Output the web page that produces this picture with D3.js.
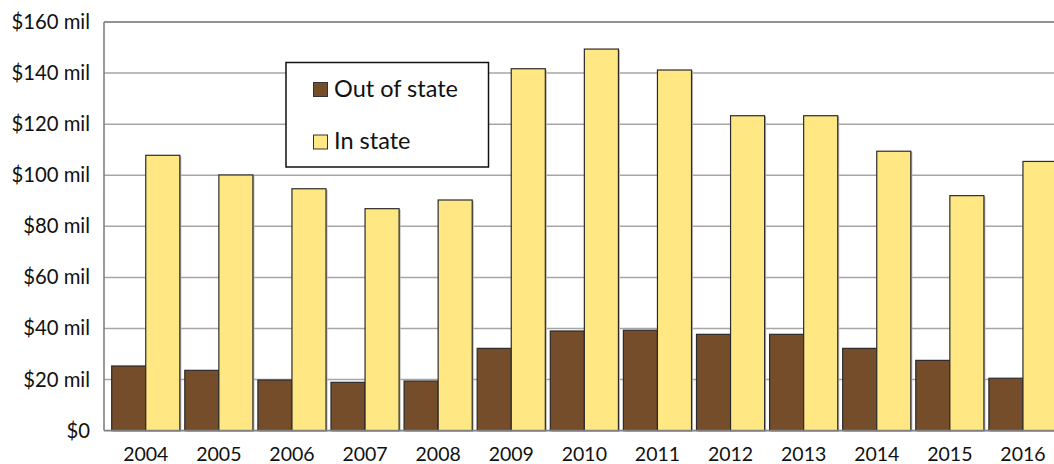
<!DOCTYPE html>
<html>
<head>
<meta charset="utf-8">
<script src="https://cdn.jsdelivr.net/npm/d3@7"></script>
<style>
  html, body { margin: 0; padding: 0; background: #fff; }
  svg { display: block; font-family: Lato, "Open Sans", sans-serif; }
</style>
</head>
<body>
<svg id="chart" width="1054" height="464"></svg>
<script>
// Tourism spending by origin, millions of dollars
const years = ["2004","2005","2006","2007","2008","2009","2010","2011","2012","2013","2014","2015","2016"];
const outOfState = [25.3, 23.6, 19.8, 18.9, 19.4, 32.2, 39.0, 39.3, 37.7, 37.7, 32.2, 27.5, 20.5];
const inState    = [107.8, 100.1, 94.7, 86.9, 90.3, 141.7, 149.4, 141.2, 123.3, 123.3, 109.4, 92.0, 105.4];
const seriesNames = ["Out of state", "In state"];
const seriesColors = ["#764d2a", "#ffe884"];
const yTicks = [0, 20, 40, 60, 80, 100, 120, 140, 160];

const svg = d3.select("#chart");
const axisX = 104, plotRight = 1054;
const plotTop = 22, plotBottom = 430.6;

const y = d3.scaleLinear().domain([0, 160]).range([plotBottom, plotTop]);
const x0 = d3.scaleBand().domain(years).range([109.2, 1059.5])
  .paddingInner(0.068).paddingOuter(0.034);
const x1 = d3.scaleBand().domain(seriesNames).range([0, x0.bandwidth()]);

// Horizontal gridlines
svg.append("g").selectAll("line").data(yTicks.filter(t => t > 0)).join("line")
  .attr("x1", axisX).attr("x2", plotRight)
  .attr("y1", d => y(d)).attr("y2", d => y(d))
  .attr("stroke", d => d === 160 ? "#6e6e6e" : "#a6a6a6")
  .attr("stroke-width", 1.5);

// Y axis labels
const yAxis = d3.axisLeft(y).tickValues(yTicks)
  .tickFormat(d => d === 0 ? "$0" : `$${d} mil`).tickSize(0).tickPadding(14);
const gy = svg.append("g").attr("transform", `translate(${axisX},0)`).call(yAxis);
gy.select(".domain").remove();
gy.selectAll("text").attr("font-size", 20.3).attr("fill", "#111")
  .attr("font-family", "Lato, sans-serif");

// Bars
const rows = years.map((yr, i) => ({ year: yr, values: [outOfState[i], inState[i]] }));
const groups = svg.append("g").selectAll("g").data(rows).join("g")
  .attr("transform", d => `translate(${x0(d.year)},0)`);

// soft shadow to the right of each bar
groups.selectAll("rect.shadow").data(d => d.values.map((v, k) => ({ v, k }))).join("rect")
  .attr("class", "shadow")
  .attr("x", d => x1(seriesNames[d.k]) + 1.5)
  .attr("y", d => y(d.v) + 1)
  .attr("width", x1.bandwidth())
  .attr("height", d => plotBottom - y(d.v))
  .attr("fill", "#b5b5b5");

groups.selectAll("rect.bar").data(d => d.values.map((v, k) => ({ v, k }))).join("rect")
  .attr("class", "bar")
  .attr("x", d => x1(seriesNames[d.k]))
  .attr("y", d => y(d.v))
  .attr("width", x1.bandwidth())
  .attr("height", d => plotBottom - y(d.v))
  .attr("fill", d => seriesColors[d.k])
  .attr("stroke", "#2b2b2b")
  .attr("stroke-width", 1.2);

// Axis lines
svg.append("line").attr("x1", axisX).attr("x2", axisX).attr("y1", plotTop).attr("y2", plotBottom)
  .attr("stroke", "#808080").attr("stroke-width", 1.6);
svg.append("line").attr("x1", axisX).attr("x2", plotRight).attr("y1", plotBottom).attr("y2", plotBottom)
  .attr("stroke", "#808080").attr("stroke-width", 1.6);

// X axis labels
const xAxis = d3.axisBottom(x0).tickSize(0).tickPadding(17);
const gx = svg.append("g").attr("transform", `translate(0,${plotBottom})`).call(xAxis);
gx.select(".domain").remove();
gx.selectAll("text").attr("font-size", 19.5).attr("fill", "#111")
  .attr("font-family", "Lato, sans-serif");

// Legend
const legend = svg.append("g");
legend.append("rect").attr("x", 286).attr("y", 62.5).attr("width", 202.5).attr("height", 104.5)
  .attr("fill", "#fff").attr("stroke", "#111").attr("stroke-width", 1.5);
const items = legend.selectAll("g").data(seriesNames).join("g")
  .attr("transform", (d, i) => `translate(313.5,${82.5 + i * 52.5})`);
items.append("rect").attr("width", 14).attr("height", 14)
  .attr("fill", (d, i) => seriesColors[i]).attr("stroke", "#333").attr("stroke-width", 1);
items.append("text").attr("x", 20.5).attr("y", 14.3)
  .attr("font-size", 23.5).attr("fill", "#111").text(d => d);
</script>
</body>
</html>
